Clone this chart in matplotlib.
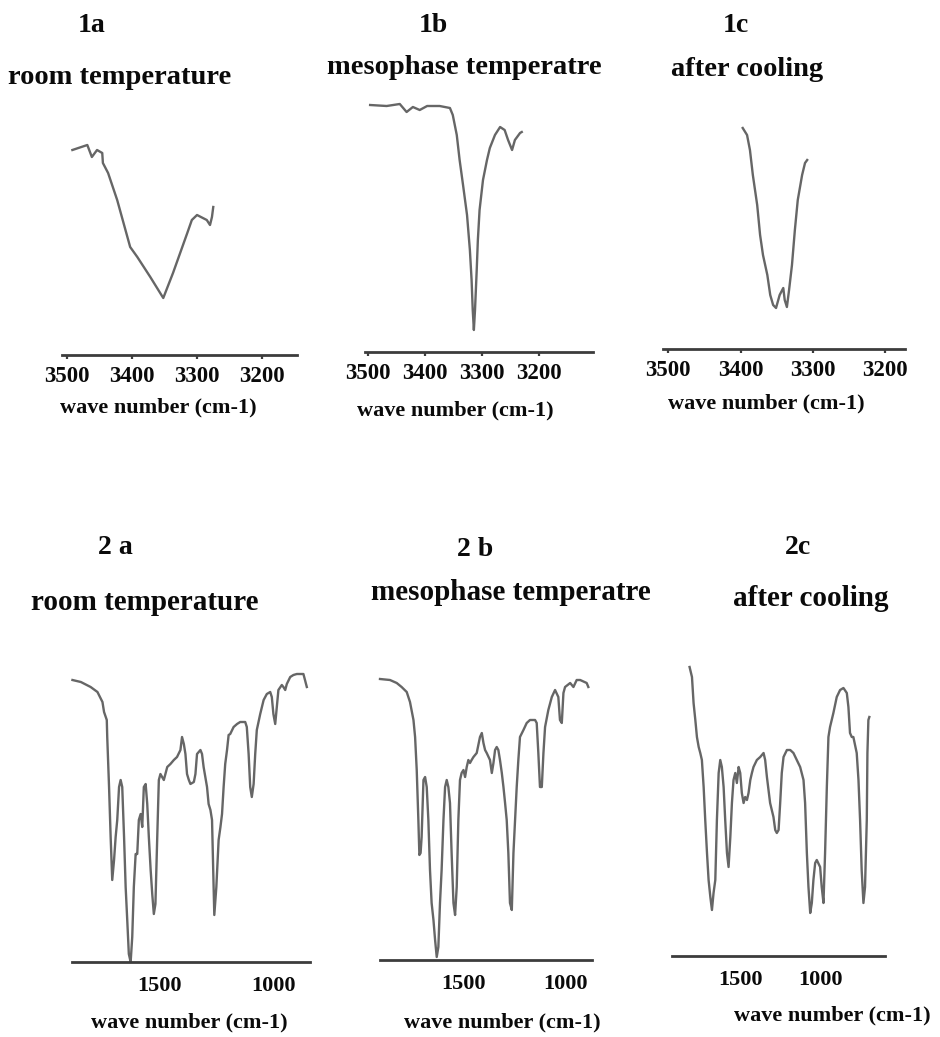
"""IR spectra panels (N-H stretch region and fingerprint region)"""
import matplotlib
matplotlib.use('Agg')
import matplotlib.pyplot as plt

W, H = 940, 1037
DPI = 100

plt.rcParams['font.family'] = ['Liberation Serif', 'DejaVu Serif']
plt.rcParams['font.weight'] = 'bold'

CURVE = '#666666'
AXIS = '#3c3c3c'
TXT = '#0a0a0a'

# ─── DATA (wave number cm-1, transmittance arb. units) ────────────────────
wn_1a = [3492, 3469, 3462, 3454, 3446, 3445, 3437, 3423, 3403, 3392, 3372,
         3352, 3337, 3326, 3315, 3308, 3300, 3291, 3285, 3280, 3277, 3275]
tr_1a = [205, 210, 198, 205, 202, 192, 182, 155, 108, 98, 78,
         57, 82, 102, 122, 135, 140, 137, 135, 130, 138, 148]

wn_1b = [3496, 3467, 3444, 3432, 3421, 3409, 3396, 3374, 3356, 3351, 3344,
         3339, 3333, 3326, 3321, 3318, 3316, 3314, 3312, 3309, 3307, 3304,
         3298, 3291, 3286, 3277, 3268, 3260, 3254, 3247, 3242, 3233, 3230]
tr_1b = [247, 246, 248, 240, 245, 242, 246, 246, 244, 237, 217,
         192, 167, 137, 102, 72, 42, 22, 42, 82, 112, 142,
         172, 192, 204, 217, 225, 222, 212, 202, 212, 219, 220]

wn_1c = [3397, 3391, 3387, 3383, 3377, 3373, 3369, 3363, 3359, 3355, 3351,
         3346, 3341, 3339, 3336, 3333, 3329, 3325, 3321, 3315, 3311, 3308]
tr_1c = [221, 214, 199, 174, 144, 114, 94, 74, 54, 44, 41,
         54, 61, 49, 42, 59, 84, 119, 149, 174, 186, 189]

wn_2a = [1883, 1846, 1803, 1773, 1751, 1744, 1732, 1730, 1722, 1715, 1708,
         1700, 1693, 1686, 1678, 1671, 1664, 1656, 1649, 1642, 1635, 1627,
         1620, 1613, 1605, 1598, 1591, 1583, 1576, 1569, 1561, 1554, 1547,
         1539, 1532, 1525, 1518, 1510, 1503, 1496, 1481, 1466, 1452, 1437,
         1423, 1408, 1401, 1393, 1386, 1379, 1371, 1364, 1349, 1342, 1335,
         1320, 1313, 1306, 1291, 1284, 1276, 1269, 1262, 1259, 1250, 1240,
         1232, 1225, 1218, 1211, 1203, 1196, 1189, 1174, 1159, 1145, 1123,
         1116, 1108, 1101, 1094, 1086, 1079, 1072, 1057, 1042, 1028, 1013,
         1006, 999, 991, 984, 977, 962, 955, 947, 940, 925, 911, 896, 867,
         860, 852]
tr_2a = [282, 280, 275, 270, 260, 250, 242, 225, 175, 125, 82,
         102, 125, 142, 175, 182, 175, 125, 75, 42, 8, 0,
         25, 75, 108, 108, 142, 148, 135, 175, 178, 158, 125,
         92, 68, 48, 58, 125, 182, 188, 182, 195, 198, 202,
         205, 212, 225, 218, 208, 188, 182, 178, 180, 188, 208,
         212, 208, 195, 175, 158, 152, 142, 75, 47, 75, 122,
         135, 148, 175, 198, 212, 227, 228, 235, 238, 240, 240,
         235, 208, 175, 165, 178, 208, 232, 248, 262, 268, 270,
         265, 248, 238, 255, 272, 277, 275, 272, 278, 285, 287, 288, 288,
         282, 275]

wn_2b = [1907, 1858, 1825, 1801, 1776, 1760, 1743, 1735, 1727, 1719, 1714,
         1708, 1703, 1694, 1686, 1678, 1670, 1662, 1654, 1645, 1637, 1629,
         1621, 1613, 1605, 1596, 1588, 1580, 1572, 1564, 1556, 1547, 1539,
         1531, 1523, 1515, 1507, 1498, 1490, 1482, 1474, 1466, 1458, 1449,
         1433, 1417, 1408, 1400, 1392, 1384, 1368, 1359, 1351, 1343, 1335,
         1327, 1319, 1310, 1302, 1294, 1286, 1278, 1270, 1261, 1253, 1245,
         1237, 1229, 1221, 1204, 1188, 1172, 1147, 1139, 1131, 1123, 1114,
         1106, 1098, 1082, 1065, 1049, 1033, 1025, 1016, 1008, 1000, 975,
         959, 943, 926, 894, 886]
tr_2b = [281, 280, 277, 273, 268, 258, 240, 223, 190, 140, 105,
         107, 123, 180, 183, 173, 140, 90, 57, 40, 20, 3,
         13, 57, 90, 140, 173, 180, 173, 157, 107, 57, 45,
         73, 140, 180, 187, 190, 183, 193, 200, 197, 200, 203,
         207, 223, 227, 217, 210, 207, 200, 187, 197, 210, 213,
         210, 200, 187, 173, 157, 140, 107, 57, 50, 107, 140,
         173, 200, 223, 230, 237, 240, 240, 237, 207, 173, 173,
         207, 233, 250, 263, 270, 263, 240, 237, 267, 273, 277,
         273, 280, 280, 277, 273]

wn_2c = [1817, 1802, 1792, 1781, 1771, 1760, 1750, 1740, 1729, 1719, 1708,
         1698, 1687, 1677, 1667, 1656, 1646, 1635, 1625, 1615, 1604, 1594,
         1583, 1573, 1562, 1552, 1542, 1531, 1521, 1510, 1500, 1490, 1479,
         1469, 1458, 1448, 1437, 1427, 1417, 1396, 1375, 1354, 1344, 1333,
         1313, 1292, 1281, 1271, 1260, 1250, 1240, 1229, 1208, 1187, 1167,
         1146, 1125, 1104, 1094, 1083, 1073, 1062, 1052, 1042, 1031, 1021,
         1000, 990, 979, 969, 958, 948, 938, 917, 896, 875, 854, 833, 823,
         813, 802, 792, 771, 760, 750, 740, 729, 719, 708, 704, 698, 692]
tr_2c = [289, 279, 253, 236, 219, 209, 203, 196, 169, 136, 103,
         76, 59, 46, 63, 76, 136, 183, 196, 189, 169, 136,
         103, 89, 119, 153, 176, 183, 173, 189, 183, 163, 153,
         159, 156, 163, 176, 183, 189, 196, 199, 203, 196, 179,
         153, 139, 126, 123, 126, 153, 183, 199, 206, 206, 203,
         196, 189, 176, 153, 103, 69, 43, 53, 76, 93, 96,
         89, 69, 53, 103, 169, 219, 229, 243, 259, 266, 268, 263, 249,
         223, 219, 219, 203, 176, 136, 86, 53, 69, 136, 203, 236, 239]

ticks_nh = [3500, 3400, 3300, 3200]
ticks_fp = [1500, 1000]

panel_ids = ['1a', '1b', '1c', '2 a', '2 b', '2c']
titles = ['room temperature', 'mesophase temperatre', 'after cooling',
          'room temperature', 'mesophase temperatre', 'after cooling']
xlabel = 'wave number (cm-1)'

# ─── LAYOUT (pixels of the 940x1037 canvas) ───────────────────────────────
# x0, x1, axis-line y, height, xlim
AX_BOX = [
    (62, 297, 355, 220, (3508, 3146)),
    (365, 593, 352, 255, (3505, 3105)),
    (663, 905, 349, 230, (3507, 3173)),
    (72, 310, 962, 295, (1885, 838)),
    (380, 592, 960, 295, (1907, 868)),
    (672, 885, 956, 300, (1927, 594)),
]
# id label (x, y), title (x, y), xlabel (x, y)
TXT_POS = [
    ((92, 25), (120, 77), (158, 407)),
    ((433, 25), (464, 68), (455, 410)),
    ((736, 25), (747, 70), (766, 403)),
    ((115, 548), (145, 602), (189, 1022)),
    ((475, 550), (511, 593), (502, 1022)),
    ((798, 548), (811, 598), (832, 1015)),
]

fig = plt.figure(figsize=(W / DPI, H / DPI), dpi=DPI)
fig.patch.set_facecolor('white')


def fx(px):
    return px / W


def fy(py):
    return 1 - py / H


def panel(i, wn, tr, ticks):
    top_row = i < 3
    x0, x1, base, h, xlim = AX_BOX[i]
    ax = fig.add_axes([fx(x0), fy(base), (x1 - x0) / W, h / H])
    ax.plot(wn, tr, color=CURVE, lw=1.7, clip_on=False, solid_joinstyle='round')
    ax.set_xlim(*xlim)
    ax.set_ylim(0, h)
    for s in ('top', 'left', 'right'):
        ax.spines[s].set_visible(False)
    ax.spines['bottom'].set_color(AXIS)
    ax.spines['bottom'].set_linewidth(2.0)
    ax.set_yticks([])
    ax.set_xticks(ticks)
    ax.set_xticklabels([str(t) for t in ticks])
    if top_row:
        ax.tick_params(axis='x', length=3, width=1.6, color=AXIS, pad=5,
                       labelsize=16.5, labelcolor=TXT)
    else:
        ax.tick_params(axis='x', length=0, pad=10, labelsize=16,
                       labelcolor=TXT)
    ax.patch.set_alpha(0)

    (ix, iy), (tx, ty), (lx, ly) = TXT_POS[i]
    tsize = 20.5 if top_row else 21
    fig.text(fx(ix), fy(iy), panel_ids[i], ha='center', va='center',
             fontsize=20, fontweight='bold', color=TXT)
    fig.text(fx(tx), fy(ty), titles[i], ha='center', va='center',
             fontsize=tsize, fontweight='bold', color=TXT)
    fig.text(fx(lx), fy(ly), xlabel, ha='center', va='center',
             fontsize=16, fontweight='bold', color=TXT)
    return ax


panel(0, wn_1a, tr_1a, ticks_nh)
panel(1, wn_1b, tr_1b, ticks_nh)
panel(2, wn_1c, tr_1c, ticks_nh)
panel(3, wn_2a, tr_2a, ticks_fp)
panel(4, wn_2b, tr_2b, ticks_fp)
panel(5, wn_2c, tr_2c, ticks_fp)

fig.savefig('out.png', dpi=DPI, facecolor='white')
plt.close()
